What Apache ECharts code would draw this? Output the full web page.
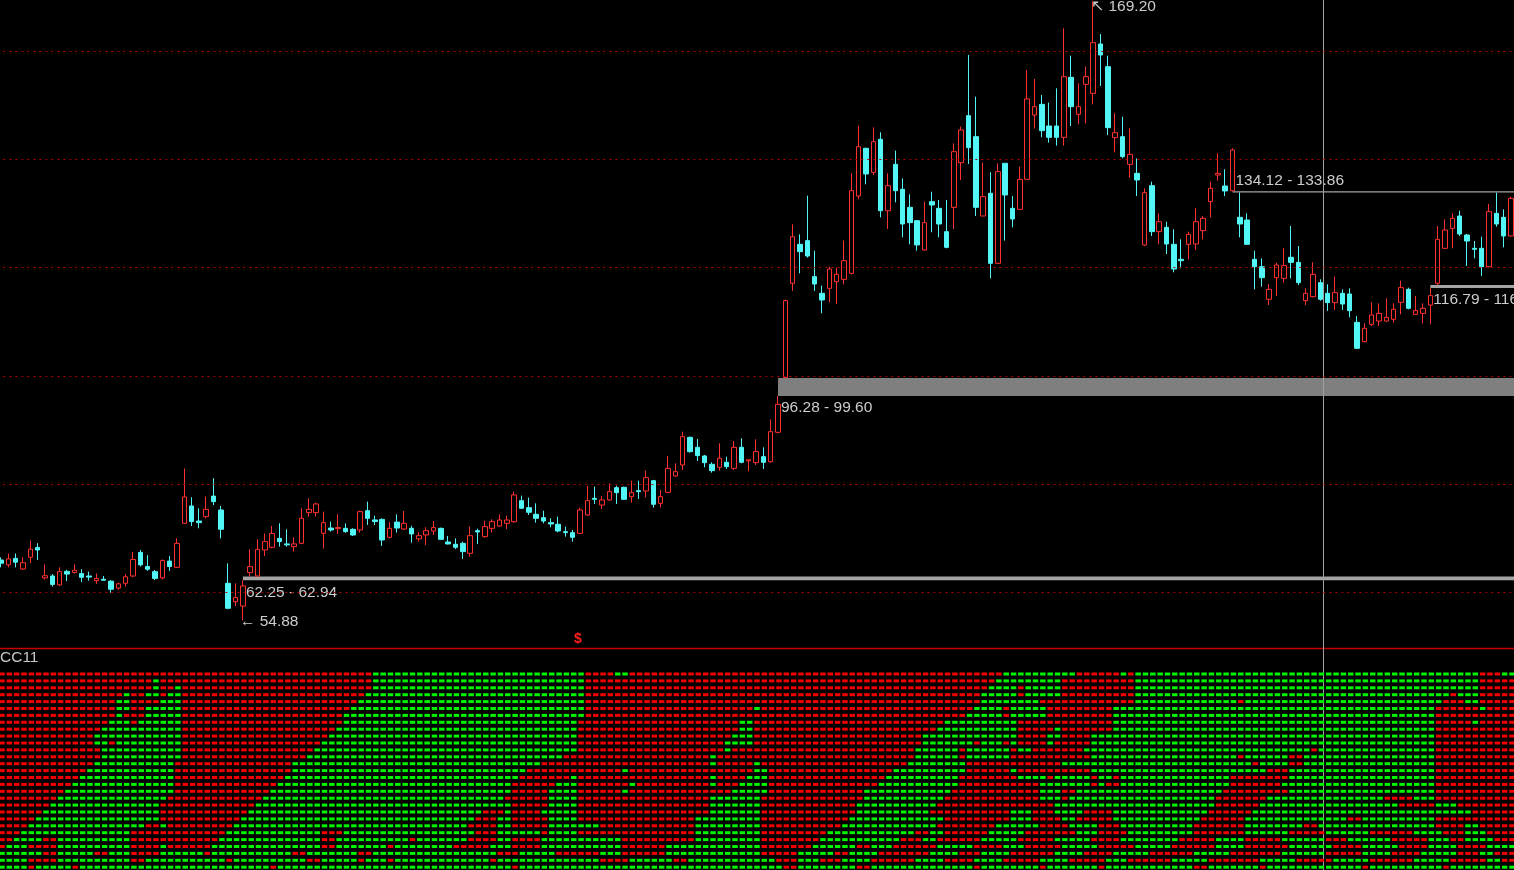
<!DOCTYPE html>
<html>
<head>
<meta charset="utf-8">
<script src="https://cdn.jsdelivr.net/npm/echarts@6/dist/echarts.min.js"></script>
<style>
html,body{margin:0;padding:0;background:#000;overflow:hidden;}
#c{width:1514px;height:870px;}
</style>
</head>
<body>
<div id="c"></div>
<script>
// ---------- DATA ----------
// candles: [open, close, low, high]
const ohlc = [
[66.0,65.4,64.65,66.5],[65.1,66.2,64.65,67.2],[66.3,65.6,64.65,67.2],[64.34,65.5,64.16,66.5],[66.5,68.0,65.4,69.6],
[68.3,67.85,66.0,69.1],[62.7,63.1,62.4,65.2],[63.05,61.5,61.1,63.4],[61.4,63.85,61.2,64.65],[63.9,63.4,62.1,64.2],
[63.7,64.1,63.5,65.2],[63.5,62.8,61.9,64.3],[63.05,62.85,62.2,63.85],[62.2,62.6,61.6,63.5],[62.45,62.25,62.2,63.05],
[62.1,60.6,59.97,62.3],[60.8,61.6,60.5,61.8],[61.7,62.9,61.1,63.4],[63.05,66.1,62.8,67.5],[67.4,65.1,64.8,67.85],
[64.8,64.3,64.0,66.9],[63.85,62.6,62.3,64.16],[62.7,65.9,62.4,66.1],[65.8,64.8,63.97,66.75],[64.65,69.08,64.5,70.0],
[72.78,77.64,72.65,82.9],[75.98,73.1,72.3,77.6],[73.2,72.9,71.85,75.55],[74.0,75.36,73.7,77.7],[77.8,76.78,76.16,81.1],
[75.24,71.67,70.0,75.98],[61.7,57.08,56.9,65.39],[58.3,59.05,57.5,61.7],[57.5,61.2,54.88,62.25],[63.67,64.77,62.94,67.97],
[63.05,67.97,62.96,69.8],[67.85,69.4,66.75,70.9],[68.35,70.9,68.16,72.3],[70.0,69.4,68.47,72.78],[68.97,68.8,68.47,71.67],
[68.47,68.97,67.55,70.19],[69.08,73.7,68.97,75.55],[74.75,75.36,74.0,77.4],[74.75,76.35,74.0,76.6],[70.93,72.9,68.1,74.93],
[71.9,71.55,71.24,73.1],[71.8,72.0,70.8,74.44],[71.85,71.24,71.05,72.78],[71.67,70.62,70.44,71.85],[71.55,74.93,71.05,75.1],
[75.1,73.7,72.47,76.78],[73.4,73.1,72.47,74.19],[73.5,69.7,68.6,73.7],[70.19,71.85,70.0,73.0],[73.0,71.9,71.05,74.44],
[71.73,72.78,71.55,75.05],[71.85,70.81,69.2,72.3],[69.9,70.5,69.39,71.1],[70.62,71.42,68.78,72.04],[71.36,71.98,70.62,73.2],
[71.85,69.82,69.7,71.98],[69.33,68.96,68.9,70.44],[68.9,68.35,68.04,70.0],[69.08,67.55,66.2,69.39],[67.24,70.5,66.62,72.16],
[71.42,71.18,68.96,71.79],[70.31,72.16,70.13,73.27],[71.85,73.08,71.05,73.52],[72.28,73.39,72.16,74.44],[72.78,73.39,71.73,74.19],
[73.08,78.01,72.9,78.63],[76.96,75.55,75.42,77.89],[75.67,74.81,74.31,77.52],[74.44,73.7,72.9,76.47],[73.82,73.2,72.78,75.1],
[72.9,72.65,72.04,73.7],[72.6,71.36,71.12,74.01],[71.24,71.05,70.31,72.16],[71.05,70.19,69.39,71.55],[70.93,75.24,70.81,75.67],
[74.31,76.96,74.19,79.67],[77.4,77.2,76.35,79.55],[76.16,77.09,75.42,77.83],[77.09,78.63,76.96,80.16],[79.36,78.44,76.35,79.73],
[79.42,77.21,77.09,79.55],[77.7,78.44,76.6,80.65],[78.81,78.63,77.27,80.65],[78.75,81.21,77.58,82.5],[80.65,76.29,75.67,80.78],
[76.47,77.7,75.73,78.93],[78.5,82.93,78.44,85.21],[81.52,82.32,81.4,83.86],[83.55,88.78,82.63,89.7],[88.66,86.01,85.83,88.78],
[86.81,85.27,84.29,88.35],[85.21,83.98,83.12,85.4],[83.67,82.5,82.13,84.04],[83.12,84.78,82.5,87.55],[84.04,83.24,82.81,85.09],
[82.93,86.81,82.63,87.98],[86.81,84.04,83.86,88.47],[84.3,84.5,82.4,84.6],[83.98,86.01,83.55,88.29],[85.09,84.04,82.81,86.81],
[84.16,89.7,83.98,91.98],[89.58,94.75,89.4,96.28],[99.7,113.9,99.6,114.1],[117.1,125.7,115.7,128.0],[124.3,122.94,118.94,126.14],
[124.98,122.14,121.84,133.29],[118.33,116.97,115.68,123.13],[115.25,114.02,111.56,116.67],[116.17,119.74,113.59,120.17],[117.4,118.76,113.28,119.99],
[117.84,121.28,116.91,124.98],[118.94,134.21,118.76,137.41],[133.22,142.33,132.61,146.21],[142.03,137.29,135.38,142.15],[137.6,143.26,137.1,145.9],
[143.69,130.51,129.28,144.98],[130.51,135.13,127.13,137.41],[139.07,134.21,132.05,141.6],[134.46,128.05,125.59,136.49],[131.13,128.3,124.3,133.53],
[128.67,124.18,123.13,128.79],[123.25,128.3,123.13,132.18],[132.18,131.56,126.52,134.02],[130.95,128.05,125.59,132.49],[126.64,123.74,123.56,132.49],
[131.13,141.41,127.13,142.95],[139.38,145.41,136.18,146.03],[148.06,142.15,139.13,159.26],[144.18,131.13,129.53,151.57],[129.53,133.1,129.53,139.38],
[133.72,120.79,118.02,137.6],[120.79,137.72,120.79,139.26],[139.26,133.41,124.98,139.26],[130.95,128.98,127.44,133.22],[130.76,136.3,130.76,138.64],
[136.3,151.14,136.18,156.49],[148.18,149.72,145.72,154.83],[150.15,145.29,144.06,151.88],[146.15,144.06,143.07,150.46],[146.15,144.06,142.52,153.11],
[144.06,155.26,142.52,164.19],[155.14,149.72,146.15,159.14],[148.31,149.72,146.46,154.03],[153.85,155.26,146.64,157.11],[152.18,161.54,150.15,169.20],
[161.29,159.26,153.54,163.14],[157.11,145.84,144.49,159.14],[143.99,144.92,141.29,148.49],[144.18,140.49,140.18,147.87],[139.07,140.92,136.61,145.72],
[137.41,136.18,133.22,140.18],[124.17,133.84,123.99,134.64],[135.13,126.64,125.84,135.87],[126.64,128.48,124.3,130.02],[127.44,124.36,122.51,128.48],
[124.3,119.74,119.12,127.07],[121.53,121.28,119.86,125.22],[124.3,126.14,121.53,126.64],[124.36,128.48,123.25,130.95],[126.82,129.1,125.22,129.53],
[132.18,134.64,129.28,135.87],[137.1,137.41,136.06,141.1],[135.07,134.15,133.22,138.15],[134.2,141.72,134.12,142.03],[129.28,128.05,125.59,133.86],
[128.79,124.3,124.18,130.02],[121.53,120.17,115.99,123.13],[120.17,118.14,116.48,121.71],[114.14,115.99,113.09,116.97],[118.14,120.48,114.76,120.91],
[118.02,120.36,117.22,123.56],[121.9,120.97,118.02,127.68],[120.97,117.22,116.79,123.99],[113.89,115.25,113.09,116.17],[114.63,118.76,114.51,120.97],
[117.22,114.14,113.89,117.84],[115.25,113.53,112.0,116.91],[113.53,115.37,112.17,118.33],[115.25,113.28,112.17,115.99],[115.13,112.05,110.81,116.17],
[109.89,105.09,104.97,111.06],[106.32,108.79,106.2,109.71],[109.52,111.25,109.21,113.59],[110.13,111.55,109.21,113.4],[110.13,110.81,110.01,114.32],
[110.45,112.3,109.83,113.4],[113.59,116.3,111.37,117.59],[115.99,112.48,112.3,116.3],[111.37,112.05,111.37,114.76],[111.55,112.48,109.71,113.4],
[113.09,114.82,109.52,116.25],[117.1,125.22,116.79,127.68],[123.56,126.94,123.44,128.91],[127.25,129.1,123.56,130.02],[129.53,126.2,125.84,130.51],
[126.02,124.91,120.3,126.2],[123.56,123.38,121.71,124.91],[123.56,120.17,118.45,125.71],[120.17,130.33,120.05,131.75],[130.02,128.05,127.56,133.84],
[129.28,125.84,123.74,130.76],[125.84,132.79,125.71,133.1]
];

// horizontal price guide levels
const gridPrices = [60, 80, 100, 120, 140, 160];

// unfilled gaps: candle index where the zone starts, upper and lower price, caption
const gaps = [
  {from: 106, hi: 99.60, lo: 96.28, text: '96.28 - 99.60', above: false, wide: true},
  {from: 33,  hi: 62.94, lo: 62.25, text: '62.25 - 62.94', above: false, wide: false},
  {from: 168, hi: 134.12, lo: 133.86, text: '134.12 - 133.86', above: true, wide: false},
  {from: 195, hi: 116.79, lo: 116.25, text: '116.79 - 116.25', above: false, wide: false}
];

// extreme labels
const extremes = [
  {idx: 149, price: 169.20, text: '169.20', top: true},
  {idx: 33, price: 54.88, text: '54.88', top: false}
];

// CC11 matrix, one string per row (top to bottom): colour + starting column
const cc11Rows = [
"R0 G51 R80 G84 R86 G137 R147 G153 R154 G155 R202 G205",
"R0 G21 R22 G51 R80 G136 R145 G155 R202",
"R0 G21 R22 G24 R25 G51 R80 G135 R139 G140 R145 G155 R202",
"R0 G17 R18 G20 R22 G23 R25 G50 R80 G134 R139 G140 R145 G155 R198 G199 R202",
"R0 G16 R18 G22 R25 G49 R80 G134 R142 G155 R169 G170 R197 G200 R202",
"R0 G16 R18 G20 R25 G48 R80 G103 R104 G133 R137 G138 R143 G152 R196 G202 R203",
"R0 G16 R17 G20 R25 G47 R80 G132 R137 G138 R143 G152 R196",
"R0 G15 R18 G19 R25 G47 R79 G101 R103 G129 R139 G152 R196 G201 R202",
"R0 G14 R25 G46 R79 G101 R103 G128 R139 G144 R145 G152 R196",
"R0 G13 R25 G45 R79 G100 R103 G126 R139 G143 R145 G149 R196",
"R0 G13 R15 G16 R25 G44 R79 G99 R103 G126 R133 G134 R137 G138 R139 G143 R144 G149 R196",
"R0 G14 R25 G43 R79 G99 R100 G125 R131 G132 R138 G139 R141 G148 R179 G180 R196",
"R0 G14 R25 G42 R77 G97 R98 G125 R131 G132 R138 G149 R169 G170 R176 G178 R196",
"R0 G13 R24 G40 R74 G97 R98 G103 R104 G124 R132 G145 R171 G172 R176 G178 R196",
"R0 G12 R24 G40 R72 G85 R86 G103 R105 G122 R132 G138 R139 G149 R173 G176 R196",
"R0 G11 R24 G39 R71 G78 R79 G97 R98 G102 R105 G121 R131 G139 R143 G144 R149 G150 R152 G153 R168 G176 R196",
"R0 G10 R24 G38 R70 G76 R79 G86 R87 G97 R98 G101 R105 G120 R131 G142 R149 G150 R151 G153 R168 G175 R196",
"R0 G9 R24 G37 R70 G75 R79 G85 R86 G100 R105 G118 R130 G142 R145 G147 R167 G176 R196",
"R0 G8 R23 G36 R69 G75 R79 G97 R104 G118 R129 G142 R145 G146 R166 G173 R189 G193 R196",
"R0 G7 R22 G35 R70 G75 R79 G97 R104 G117 R128 G144 R166 G172 R191 G196 R199",
"R0 G6 R22 G34 R66 G69 R70 G74 R79 G97 R104 G117 R127 G138 R141 G144 R148 G152 R165 G171 R201",
"R0 G5 R22 G33 R65 G68 R70 G75 R79 G95 R104 G116 R129 G138 R141 G145 R147 G152 R164 G170 R184 G186 R196",
"R0 G4 R20 G22 R23 G32 R64 G68 R70 G75 R82 G95 R104 G115 R128 G136 R142 G146 R150 G153 R163 G170 R178 G180 R196 G200 R202",
"R0 G3 R18 G31 R44 G47 R65 G68 R74 G75 R79 G95 R104 G113 R125 G127 R129 G135 R140 G147 R150 G154 R163 G170 R176 G181 R187 G193 R197 G200 R203",
"R0 G2 R6 G8 R18 G30 R44 G46 R56 G57 R64 G68 R70 G74 R85 G95 R104 G112 R123 G126 R128 G134 R139 G144 R149 G153 R161 G166 R170 G175 R181 G184 R190 G195 R198 G200 R204",
"R0 G1 R4 G8 R18 G22 R23 G29 R44 G46 R53 G54 R62 G67 R70 G74 R85 G91 R104 G111 R117 G119 R122 G128 R133 G137 R140 G145 R150 G155 R160 G166 R170 G176 R182 G186 R191 G195 R199 G203",
"G0 R6 G8 R13 G15 R18 G22 R28 G29 R40 G42 R49 G51 R68 G71 R76 G82 R85 G91 R104 G109 R114 G116 R120 G127 R131 G134 R138 G144 R148 G152 R157 G163 R168 G175 R181 G186 R190 G194 R199 G202 R204",
"G0 R4 G8 R18 G20 R31 G32 R42 G44 R49 G50 R53 G54 R67 G68 R82 G86 R92 G94 R106 G109 R112 G115 R119 G125 R129 G133 R137 G142 R146 G151 R154 G160 R165 G172 R177 G182 R187 G193 R198 G203 R205",
"G0 R4 G5 R10 G11 R37 G38 R70 G71 R107 G109 R117 G119 R133 G134 R142 G143 R150 G151 R163 G165 R172 G173 R186 G187 R197 G198"
];

// ---------- BUILD ----------
const N = ohlc.length;
const cats = ohlc.map((_, i) => String(i));
const rowNames = cc11Rows.map((_, i) => 'r' + i);

function expandRow(s) {
  const segs = s.trim().split(/\s+/).map(t => ({c: t[0], s: parseInt(t.slice(1), 10)}));
  const out = new Array(N).fill('R');
  segs.forEach((seg, k) => {
    const e = k + 1 < segs.length ? segs[k + 1].s : N;
    for (let i = seg.s; i < e && i < N; i++) out[i] = seg.c;
  });
  return out;
}
const greenCells = [], redCells = [];
cc11Rows.forEach((s, r) => {
  expandRow(s).forEach((c, i) => {
    (c === 'G' ? greenCells : redCells).push([i, r]);
  });
});

const FONT = "'Liberation Sans', Arial, sans-serif";
const TXT = '#cccccc';
const BAND = 7.33;
const LEFT = 1 - BAND / 2;

const chart = echarts.init(document.getElementById('c'), null, {renderer: 'canvas'});

const gapAreas = gaps.map(g => [
  {
    xAxis: g.from, yAxis: g.hi, name: g.text,
    itemStyle: {color: g.wide ? '#7f7f7f' : '#a4a4a4', opacity: 1},
    label: {
      show: true, formatter: '{b}', color: TXT, fontSize: 15.5, fontFamily: FONT,
      position: g.above ? [3, 0] : [3, '100%'],
      align: 'left', verticalAlign: g.above ? 'bottom' : 'top',
      padding: g.above ? [0, 0, 2, 0] : [4, 0, 0, 0]
    }
  },
  {xAxis: N - 0.5, yAxis: g.lo}
]);

const option = {
  backgroundColor: '#000000',
  animation: false,
  grid: [
    {left: LEFT, top: 0, width: N * BAND, height: 648, containLabel: false, outerBoundsMode: 'none'},
    {left: LEFT, top: 670.55, width: N * BAND, height: 200.1, containLabel: false, outerBoundsMode: 'none'}
  ],
  xAxis: [
    {type: 'category', gridIndex: 0, data: cats, show: false, boundaryGap: true},
    {type: 'value', gridIndex: 0, min: -0.5, max: N - 0.5, show: false},
    {type: 'category', gridIndex: 1, data: cats, show: false, boundaryGap: true}
  ],
  yAxis: [
    {type: 'value', gridIndex: 0, min: 49.75, max: 169.42, show: false, splitLine: {show: false}, scale: true},
    {type: 'category', gridIndex: 1, data: rowNames, inverse: true, show: false}
  ],
  series: [
    {
      type: 'candlestick', xAxisIndex: 0, yAxisIndex: 0, data: ohlc,
      barWidth: 5, silent: true,
      itemStyle: {color: '#000000', color0: '#52f6f6', borderColor: '#ff3030', borderColor0: '#52f6f6', borderWidth: 1, opacity: 1},
      markPoint: {
        silent: true, symbol: 'circle', symbolSize: 0,
        data: extremes.map(e => ({
          coord: [e.idx, e.price], name: e.text,
          label: {
            show: true, formatter: e.top ? '\u2196 {b}' : '\u2190 {b}', position: 'right', distance: 0,
            offset: e.top ? [-2, 6] : [-3, 1],
            color: TXT, fontSize: 15.5, fontFamily: FONT
          }
        }))
      }
    },
    {
      type: 'line', xAxisIndex: 1, yAxisIndex: 0, data: [], silent: true, showSymbol: false,
      markLine: {
        silent: true, symbol: ['none', 'none'], label: {show: false},
        lineStyle: {color: '#b00000', type: [2, 4], width: 1, opacity: 1},
        data: gridPrices.map(p => ({yAxis: p}))
      },
      markArea: {silent: true, data: gapAreas}
    },
    {
      type: 'scatter', xAxisIndex: 2, yAxisIndex: 1, data: greenCells, silent: true,
      symbol: 'rect', symbolSize: [5.5, 3], symbolOffset: [1, 0],
      itemStyle: {color: '#00f400', opacity: 1}
    },
    {
      type: 'scatter', xAxisIndex: 2, yAxisIndex: 1, data: redCells, silent: true,
      symbol: 'rect', symbolSize: [5.5, 3], symbolOffset: [1, 0],
      itemStyle: {color: '#f20000', opacity: 1}
    }
  ],
  graphic: [
    {type: 'line', silent: true, shape: {x1: 0, y1: 648.5, x2: 1514, y2: 648.5}, style: {stroke: '#c80000', lineWidth: 1.3}, z: 10},
    {type: 'text', silent: true, left: 0, top: 650, style: {text: 'CC11', fill: '#c8c8c8', font: "15.5px " + FONT}, z: 10},
    {type: 'text', silent: true, left: 574, top: 632, style: {text: '$', fill: '#ff2020', font: "bold 14px " + FONT}, z: 10},
    {type: 'line', silent: true, shape: {x1: 1323.5, y1: 0, x2: 1323.5, y2: 870}, style: {stroke: '#a0a0a0', lineWidth: 1}, z: 20}
  ]
};
chart.setOption(option);
</script>
</body>
</html>
